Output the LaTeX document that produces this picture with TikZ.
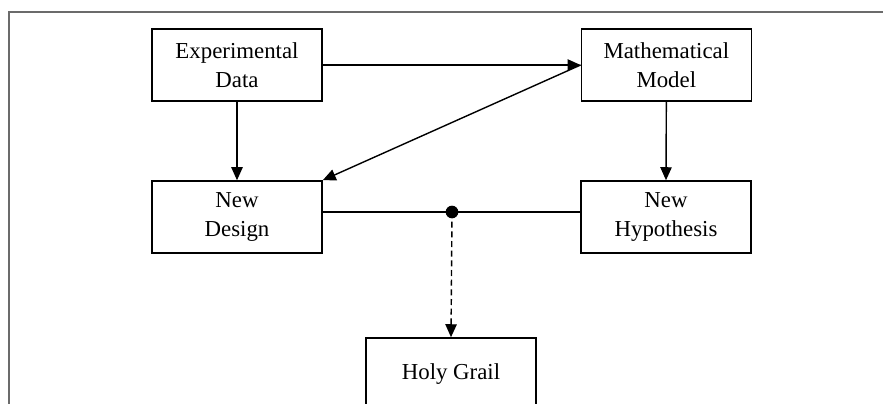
\documentclass[tikz,border=0pt]{standalone}
\usepackage{fontspec}
\setmainfont{Liberation Serif}
\usetikzlibrary{arrows.meta}
\begin{document}
\begin{tikzpicture}[
        block/.style={draw,line width=1.3pt,inner sep=0,minimum width=5.1cm,minimum height=2.16cm,align=center,font=\fontsize{19.5}{25}\selectfont},
        link/.style={line width=1.2pt,-{Triangle[length=3.9mm,width=3.4mm]}}]
        % Frame
        \useasboundingbox (0,0) rectangle (26.49,-12.12);
        \clip (0,0) rectangle (26.49,-12.12);
        \draw[line width=1.4pt,color=black!58] (0.27,-12.5) -- (0.27,-0.36) -- (27,-0.36);
        % Boxes
        \node[block] (ExpData)    at ( 7.11, -1.95) {Experimental\\Data};
        \node[block] (MathModel)  at (19.99, -1.95) {Mathematical\\Model};
        \node[block] (NewDesign)  at ( 7.11, -6.51) {New\\Design};
        \node[block] (NewHypo)    at (19.98, -6.51) {New\\Hypothesis};
        \node[block] (HolyGrail)  at (13.53,-11.22) {Holy Grail};
        % Junction
        \coordinate (Junction) at (13.56,-6.36);
        \fill (Junction) circle (0.19);
        % Connectors
        \draw[link] (ExpData.east) -- (MathModel.west);
        \draw[link] (MathModel.west) -- (NewDesign.north east);
        \draw[link] (ExpData.south) -- (NewDesign.north);
        \draw[link] (MathModel.south) -- (NewHypo.north);
        \draw[line width=1.2pt] (NewDesign.east |- Junction) -- (Junction) -- (NewHypo.west |- Junction);
        \draw[link,dash pattern=on 1.8mm off 1.1mm] (Junction) -- (HolyGrail.north);
    \end{tikzpicture}
\end{document}
